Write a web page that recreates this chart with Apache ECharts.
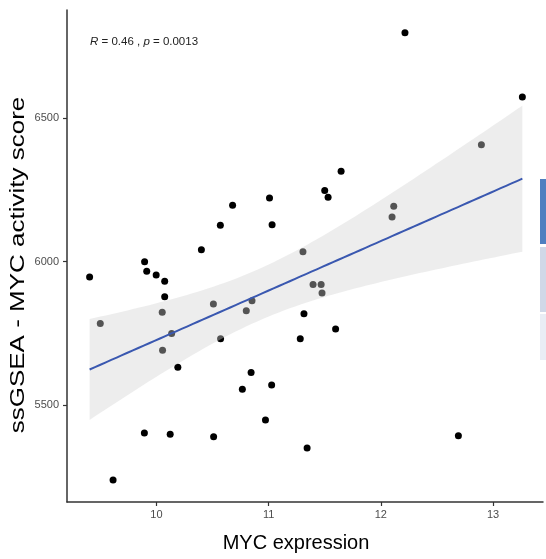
<!DOCTYPE html>
<html><head><meta charset="utf-8">
<script src="https://cdn.jsdelivr.net/npm/echarts@6/dist/echarts.min.js"></script>
<style>html,body{margin:0;padding:0;background:#fff}#c{width:546px;height:559px}</style>
</head><body><div id="c"></div>
<script>
const mycExpression = [9.405, 9.500, 9.614, 9.893, 9.895, 9.914, 9.998, 10.052, 10.055, 10.074, 10.074, 10.123, 10.136, 10.191, 10.401, 10.508, 10.510, 10.570, 10.572, 10.679, 10.766, 10.801, 10.844, 10.852, 10.972, 11.008, 11.027, 11.031, 11.282, 11.306, 11.315, 11.343, 11.396, 11.468, 11.476, 11.500, 11.530, 11.597, 11.646, 12.100, 12.115, 12.215, 12.691, 12.896, 13.261];
const activityScore = [5947, 5785, 5240, 5403, 6000, 5967, 5954, 5824, 5692, 5932, 5878, 5399, 5750, 5632, 6042, 5853, 5390, 6127, 5732, 6197, 5556, 5829, 5614, 5864, 5449, 6222, 5571, 6129, 5732, 6035, 5819, 5351, 5921, 5921, 5891, 6248, 6225, 5766, 6315, 6156, 6193, 6798, 5394, 6408, 6574];
const xTicks = [10, 11, 12, 13];
const yTicks = [5500, 6000, 6500];
const xTitle = 'MYC expression';
const yTitle = 'ssGSEA - MYC activity score';
const statR = '0.46';
const statP = '0.0013';

// linear regression with 95% confidence band (computed from the data)
const n = mycExpression.length;
const mx = mycExpression.reduce((a, b) => a + b, 0) / n;
const my = activityScore.reduce((a, b) => a + b, 0) / n;
let sxx = 0, sxy = 0;
for (let i = 0; i < n; i++) { sxx += (mycExpression[i] - mx) ** 2; sxy += (mycExpression[i] - mx) * (activityScore[i] - my); }
const slope = sxy / sxx, icpt = my - slope * mx;
let sse = 0;
for (let i = 0; i < n; i++) { const r = activityScore[i] - (icpt + slope * mycExpression[i]); sse += r * r; }
const s = Math.sqrt(sse / (n - 2));
const df = n - 2, z = 1.959964;
const tq = z + (z ** 3 + z) / (4 * df) + (5 * z ** 5 + 16 * z ** 3 + 3 * z) / (96 * df * df);
const xmin = Math.min(...mycExpression), xmax = Math.max(...mycExpression);
const fitLine = [], upper = [], lower = [];
const steps = 80;
for (let k = 0; k <= steps; k++) {
  const x = xmin + (xmax - xmin) * k / steps;
  const yh = icpt + slope * x;
  const se = s * Math.sqrt(1 / n + (x - mx) ** 2 / sxx);
  fitLine.push([x, yh]); upper.push([x, yh + tq * se]); lower.push([x, yh - tq * se]);
}

const chart = echarts.init(document.getElementById('c'), null, { renderer: 'canvas' });
const font = 'Liberation Sans, Arial, Helvetica, sans-serif';
chart.setOption({
  animation: false,
  backgroundColor: '#fff',
  grid: { left: 67, right: 3, top: 10, bottom: 57 },
  xAxis: {
    type: 'value', min: 9.2035, max: 13.445,
    axisLine: { show: true, onZero: false, lineStyle: { color: '#333', width: 1.5 } },
    axisTick: { show: true, length: 4, lineStyle: { color: '#333', width: 1.2 }, customValues: xTicks },
    axisLabel: { color: '#4d4d4d', fontSize: 11, fontFamily: font, margin: 7, customValues: xTicks },
    splitLine: { show: false }
  },
  yAxis: {
    type: 'value', min: 5163, max: 6877,
    axisLine: { show: true, onZero: false, lineStyle: { color: '#333', width: 1.5 } },
    axisTick: { show: true, length: 4, lineStyle: { color: '#333', width: 1.2 }, customValues: yTicks },
    axisLabel: { color: '#4d4d4d', fontSize: 11, fontFamily: font, margin: 8, customValues: yTicks, formatter: v => String(v) },
    splitLine: { show: false }
  },
  graphic: [
    { type: 'text', style: { text: xTitle, font: '20px ' + font, fill: '#000', textAlign: 'center', textVerticalAlign: 'middle' }, x: 296, y: 543, z: 10 },
    { type: 'text', style: { text: yTitle, font: '20px ' + font, fill: '#000', textAlign: 'center', textVerticalAlign: 'middle' }, x: 18, y: 265, rotation: Math.PI / 2, scaleX: 1.3, z: 10 },
    { type: 'text', x: 90, y: 42, style: { text: '{i|R} = ' + statR + ' , {i|p} = ' + statP, font: '11.5px ' + font, fill: '#222', textVerticalAlign: 'middle', rich: { i: { fontStyle: 'italic', fontSize: 11.5, fontFamily: font, fill: '#222' } } }, z: 10 },
    { type: 'rect', shape: { x: 540, y: 179, width: 6, height: 65 }, style: { fill: '#4f7fc0' }, z: 10 },
    { type: 'rect', shape: { x: 540, y: 247, width: 6, height: 65 }, style: { fill: '#d0d8e8' }, z: 10 },
    { type: 'rect', shape: { x: 540, y: 314, width: 6, height: 46 }, style: { fill: '#e9edf5' }, z: 10 }
  ],
  series: [
    {
      type: 'scatter', data: mycExpression.map((x, i) => [x, activityScore[i]]),
      symbol: 'circle', symbolSize: 7, itemStyle: { color: '#000', opacity: 1 }, z: 2
    },
    {
      type: 'custom', data: [[xmin, my]], z: 3, silent: true,
      renderItem: function (params, api) {
        const pts = upper.map(p => api.coord(p)).concat(lower.slice().reverse().map(p => api.coord(p)));
        return { type: 'polygon', shape: { points: pts }, style: { fill: 'rgba(211,211,211,0.4)' } };
      }
    },
    {
      type: 'line', data: fitLine, showSymbol: false, z: 4, silent: true,
      lineStyle: { color: '#3a58b0', width: 2 }
    }
  ]
});
</script></body></html>
